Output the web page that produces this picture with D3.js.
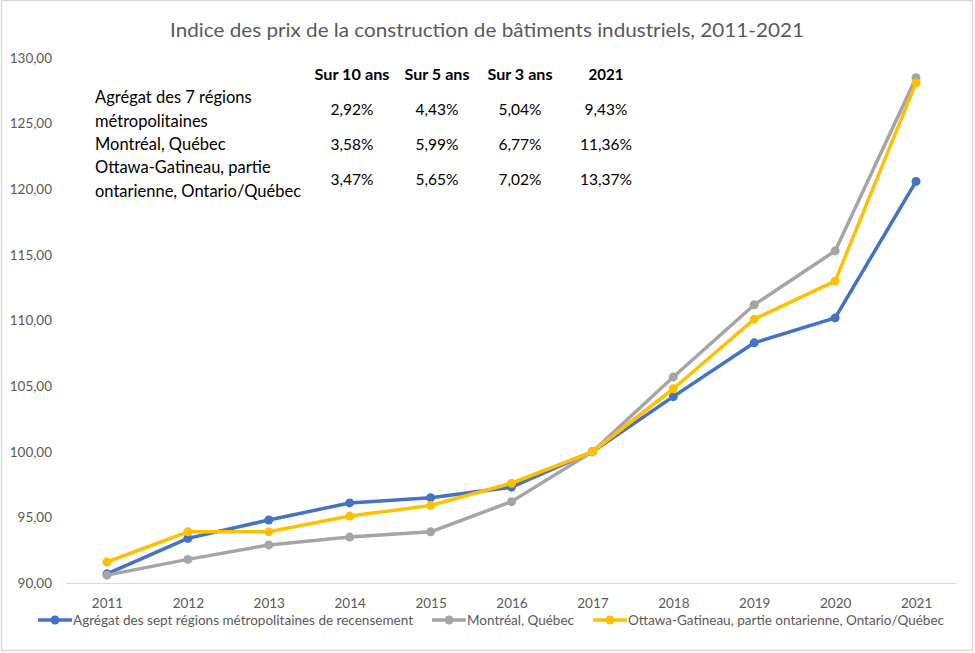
<!DOCTYPE html>
<html>
<head>
<meta charset="utf-8">
<script src="https://cdn.jsdelivr.net/npm/d3@7"></script>
<style>
  html, body { margin: 0; padding: 0; background: #fff; }
  svg { display: block; }
  text { font-family: Lato, "Open Sans", sans-serif; }
</style>
</head>
<body>
<svg id="chart" width="975" height="653"></svg>
<script>
// ---------- DATA ----------
const years = ["2011","2012","2013","2014","2015","2016","2017","2018","2019","2020","2021"];
const agregat  = [90.7, 93.4, 94.8, 96.1, 96.5, 97.3, 100.0, 104.2, 108.3, 110.2, 120.6];
const montreal = [90.6, 91.8, 92.9, 93.5, 93.9, 96.2, 100.0, 105.7, 111.2, 115.3, 128.5];
const ottawa   = [91.6, 93.9, 93.9, 95.1, 95.9, 97.6, 100.0, 104.8, 110.1, 113.0, 128.1];
const seriesNames = [
  "Agrégat des sept régions métropolitaines de recensement",
  "Montréal, Québec",
  "Ottawa-Gatineau, partie ontarienne, Ontario/Québec"
];
const yTicks = [90, 95, 100, 105, 110, 115, 120, 125, 130];
const title = "Indice des prix de la construction de bâtiments industriels, 2011-2021";
const tableHeaders = ["Sur 10 ans", "Sur 5 ans", "Sur 3 ans", "2021"];
const tableRowLabels = [
  ["Agrégat des 7 régions", "métropolitaines"],
  ["Montréal, Québec"],
  ["Ottawa-Gatineau, partie", "ontarienne, Ontario/Québec"]
];
const tableValues = [
  ["2,92%", "4,43%", "5,04%", "9,43%"],
  ["3,58%", "5,99%", "6,77%", "11,36%"],
  ["3,47%", "5,65%", "7,02%", "13,37%"]
];

// ---------- LAYOUT ----------
const svg = d3.select("#chart");
const colors = ["#4472C4", "#A5A5A5", "#FFC000"];
const series = [agregat, montreal, ottawa];
const textGrey = "#595959";

// chart border
svg.append("rect").attr("x", 1.5).attr("y", 0.5).attr("width", 971).attr("height", 650)
  .attr("fill", "#fff").attr("stroke", "#D9D9D9").attr("stroke-width", 1.5);

const x = d3.scalePoint().domain(years).range([66.5, 956.5]).padding(0.5);
const y = d3.scaleLinear().domain([90, 130]).range([583, 58]);

const loc = d3.formatLocale({decimal: ",", thousands: " ", grouping: [3], currency: ["", ""]});
const fmt = loc.format(".2f");

function fit(sel, w) {
  sel.attr("textLength", w).attr("lengthAdjust", "spacingAndGlyphs");
}

// title
svg.append("text").attr("x", 487).attr("y", 37).attr("text-anchor", "middle")
  .attr("font-size", 19).attr("fill", textGrey).text(title).call(fit, 634);

// y axis (labels only)
const yAxis = d3.axisLeft(y).tickValues(yTicks).tickFormat(fmt).tickSize(0).tickPadding(0);
const gy = svg.append("g").attr("transform", "translate(52,0)").call(yAxis);
gy.select(".domain").remove();
gy.selectAll("text").attr("font-size", 13.5).attr("fill", textGrey)
  .style("font-family", "Lato, sans-serif");

// x axis
const xAxis = d3.axisBottom(x).tickSize(0).tickPadding(15);
const gx = svg.append("g").attr("transform", "translate(0,583)").call(xAxis);
gx.select(".domain").attr("stroke", "#D9D9D9").attr("stroke-width", 1)
  .attr("d", `M${66.5},0.5H${956.5}`);
gx.selectAll("text").attr("font-size", 13.5).attr("fill", textGrey)
  .style("font-family", "Lato, sans-serif");

// lines
const line = d3.line().x((d, i) => x(years[i])).y(d => y(d));
series.forEach((s, k) => {
  const g = svg.append("g");
  g.append("path").datum(s).attr("d", line).attr("fill", "none")
    .attr("stroke", colors[k]).attr("stroke-width", 3.5)
    .attr("stroke-linejoin", "round").attr("stroke-linecap", "round");
  g.selectAll("circle").data(s).join("circle")
    .attr("cx", (d, i) => x(years[i])).attr("cy", d => y(d)).attr("r", 4.5)
    .attr("fill", colors[k]);
});

// table annotation
const colX = [352, 437, 520, 606];
const hdrW = [75, 65, 65, 35];
tableHeaders.forEach((h, i) => {
  svg.append("text").attr("x", colX[i]).attr("y", 80).attr("text-anchor", "middle")
    .attr("font-size", 16).attr("font-weight", "bold").attr("fill", "#000")
    .text(h).call(fit, hdrW[i]);
});
const rowY = [115, 150, 185];
tableValues.forEach((row, r) => {
  row.forEach((v, c) => {
    svg.append("text").attr("x", colX[c]).attr("y", rowY[r]).attr("text-anchor", "middle")
      .attr("font-size", 15.5).attr("fill", "#000").text(v);
  });
});
const labelLines = tableRowLabels.flat();
const labelY = [103, 127, 150, 173, 197];
labelLines.forEach((t, i) => {
  svg.append("text").attr("x", 95).attr("y", labelY[i]).attr("font-size", 16.5)
    .attr("fill", "#000").text(t);
});

// legend
const legStarts = [38, 432, 593];
const legTextW = [340, 107, 316];
seriesNames.forEach((n, k) => {
  const g = svg.append("g").attr("transform", `translate(${legStarts[k]},620)`);
  g.append("line").attr("x1", 0).attr("x2", 34).attr("y1", 0).attr("y2", 0)
    .attr("stroke", colors[k]).attr("stroke-width", 3.5);
  g.append("circle").attr("cx", 17).attr("cy", 0).attr("r", 4.5).attr("fill", colors[k]);
  g.append("text").attr("x", 35).attr("y", 5).attr("font-size", 14).attr("fill", textGrey)
    .text(n).call(fit, legTextW[k]);
});
</script>
</body>
</html>
